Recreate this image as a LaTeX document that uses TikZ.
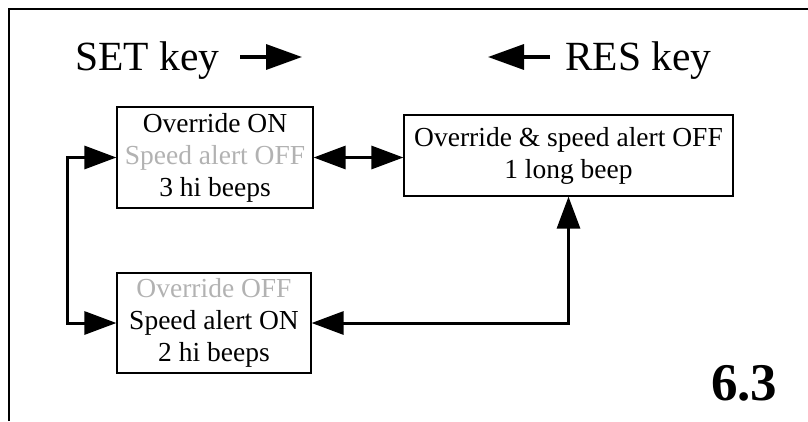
\documentclass[tikz,border=0pt]{standalone}
\usepackage{fontspec}
\setmainfont{Liberation Serif}
\usetikzlibrary{arrows.meta}

\tikzset{
  state/.style={draw, line width=1.2pt, align=center, inner sep=3pt,
    font=\fontsize{27.5}{32}\selectfont},
  link/.style={line width=3pt, {Triangle[length=32pt,width=23pt]}-{Triangle[length=32pt,width=23pt]}},
  keyarrow/.style={line width=3.5pt, -{Triangle[length=36pt,width=25pt]}},
  keylabel/.style={anchor=base west, inner sep=0pt, font=\fontsize{41.5}{45}\selectfont}
}

\begin{document}
\begin{tikzpicture}[x=1pt, y=-1pt]

\useasboundingbox (0,0) rectangle (808,421);

% Marco
\draw[line width=1.5pt] (9,421) -- (9,9) -- (808,9);

% Teclas
\node[keylabel] (setkey) at (75,70) {SET key};
\coordinate (seta) at (240,57);
\coordinate (setb) at (302,57);
\draw[keyarrow] (seta) -- (setb);

\node[keylabel] (reskey) at (565,70) {RES key};
\coordinate (resa) at (550,57);
\coordinate (resb) at (488,57);
\draw[keyarrow] (resa) -- (resb);

% Estados
\node[state, minimum width=196pt, minimum height=101pt] (ovon) at (215,157.5)
  {Override ON\\ \textcolor{gray!60}{Speed alert OFF}\\ 3 hi beeps};
\node[state, minimum width=329pt, minimum height=81pt] (alloff) at (568.5,155.5)
  {Override \& speed alert OFF\\ 1 long beep};
\node[state, minimum width=194pt, minimum height=100pt] (spon) at (214,323)
  {\textcolor{gray!60}{Override OFF}\\ Speed alert ON\\ 2 hi beeps};

% Transiciones
\draw[link] (ovon.east) -- (ovon.east -| alloff.west);
\draw[link] (spon.west) -- ++(-49,0) |- (ovon.west);
\draw[link] (spon.east) -| (alloff.south);

\node[anchor=base west, inner sep=0pt, font=\fontsize{53}{58}\selectfont\bfseries] (fig) at (711,400) {6.3};

\end{tikzpicture}
\end{document}
